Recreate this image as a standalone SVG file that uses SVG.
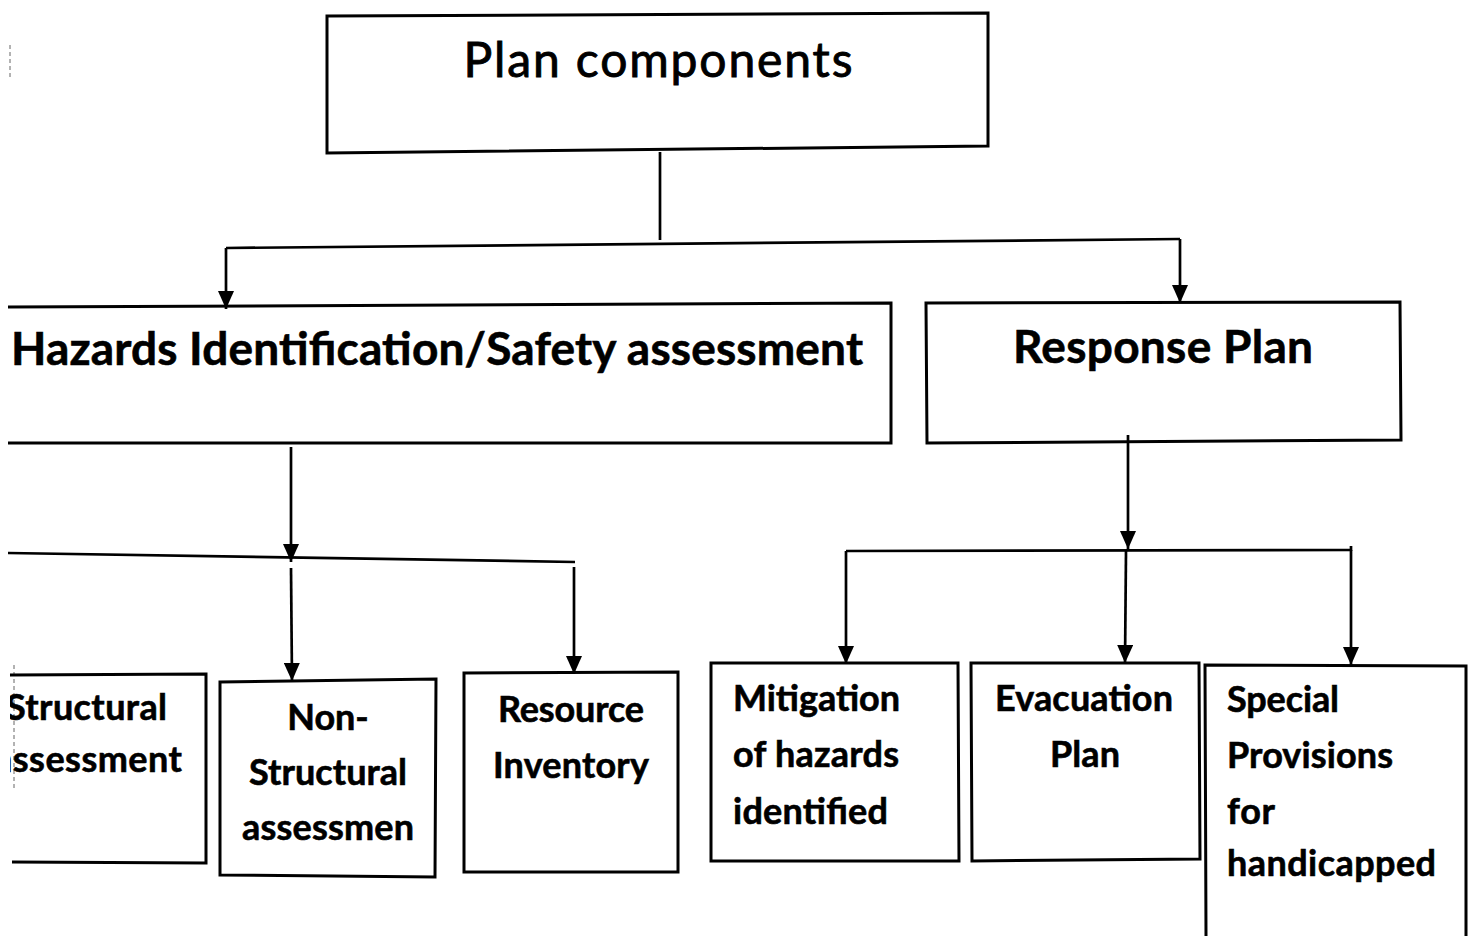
<svg xmlns="http://www.w3.org/2000/svg" width="1470" height="936" viewBox="0 0 1470 936">
<style>
.box{fill:none;stroke:#000;stroke-width:3}
.ln{fill:none;stroke:#000;stroke-width:2.7}
.t{font-family:Lato,"Liberation Sans",sans-serif;fill:#000;stroke:#000;stroke-width:0.6}
.b{font-weight:bold;font-size:36px}
.art{fill:none;stroke:#666;stroke-width:1;stroke-dasharray:4 3}
</style>
<defs>
<marker id="ah" markerUnits="userSpaceOnUse" markerWidth="18" markerHeight="16" viewBox="0 -8 18 16" refX="18" refY="0" orient="auto">
<path d="M0,-8 L18,0 L0,8 z" fill="#000"/>
</marker>
<clipPath id="clipL"><rect x="10" y="0" width="1460" height="936"/></clipPath>
</defs>
<rect width="1470" height="936" fill="#fff"/>
<path class="art" d="M10,45 L10,78"/>
<path class="art" d="M14,665 L14,790"/>
<g id="connectors">
<path class="ln" d="M660,152 L660,240"/>
<path class="ln" d="M226,248 L1180,239"/>
<path class="ln" d="M226,248 L226,309" marker-end="url(#ah)"/>
<path class="ln" d="M1180,239 L1180,303" marker-end="url(#ah)"/>
<path class="ln" d="M291,447 L291,562" marker-end="url(#ah)"/>
<path class="ln" d="M8,553 L575,562"/>
<path class="ln" d="M291,568 L292,681" marker-end="url(#ah)"/>
<path class="ln" d="M574,567 L574,674" marker-end="url(#ah)"/>
<path class="ln" d="M1128,435 L1128,549" marker-end="url(#ah)"/>
<path class="ln" d="M846,551 L1351,550 M1351,546 L1351,551"/>
<path class="ln" d="M846,551 L846,664" marker-end="url(#ah)"/>
<path class="ln" d="M1126,551 L1125,663" marker-end="url(#ah)"/>
<path class="ln" d="M1351,550 L1351,665" marker-end="url(#ah)"/>
</g>
<g id="plan">
<path class="box" d="M327,16 L988,13 L988,146 L327,153 Z"/>
<text class="t" x="658" y="77" font-size="48" text-anchor="middle" textLength="389" style="stroke-width:0.9">Plan components</text>
</g>
<g id="hazards">
<path class="box" d="M8,307 L891,303 L891,443 L8,443"/>
<text class="t" x="11" y="365" font-size="46" font-weight="bold" textLength="852">Hazards Identification/Safety assessment</text>
</g>
<g id="response">
<path class="box" d="M926,303 L1400,302 L1401,440 L927,443 Z"/>
<text class="t" x="1163" y="363" font-size="46" font-weight="bold" text-anchor="middle" textLength="300">Response Plan</text>
</g>
<g id="structural">
<path class="box" d="M10,675 L206,674 L206,863 L12,862"/>
<g clip-path="url(#clipL)">
<text class="t b" x="6" y="720" textLength="161">Structural</text>
<text class="t b" x="-6" y="772" textLength="188">assessment</text>
</g>
</g>
<g id="nonstructural">
<path class="box" d="M220,682 L436,679 L435,877 L220,875 Z"/>
<text class="t b" x="328" y="730" text-anchor="middle">Non-</text>
<text class="t b" x="328" y="785" text-anchor="middle" textLength="158">Structural</text>
<text class="t b" x="328" y="840" text-anchor="middle" textLength="172">assessmen</text>
</g>
<g id="resource">
<path class="box" d="M464,673 L678,672 L678,872 L464,872 Z"/>
<text class="t b" x="571" y="722" text-anchor="middle" textLength="146">Resource</text>
<text class="t b" x="571" y="778" text-anchor="middle" textLength="156">Inventory</text>
</g>
<g id="mitigation">
<path class="box" d="M711,663 L958,663 L959,861 L711,861 Z"/>
<text class="t b" x="733" y="711" textLength="167">Mitigation</text>
<text class="t b" x="733" y="767" textLength="166">of hazards</text>
<text class="t b" x="733" y="824" textLength="155">identified</text>
</g>
<g id="evacuation">
<path class="box" d="M971,663 L1199,663 L1200,859 L972,861 Z"/>
<text class="t b" x="1084" y="711" text-anchor="middle" textLength="178">Evacuation</text>
<text class="t b" x="1085" y="767" text-anchor="middle" textLength="70">Plan</text>
</g>
<g id="special">
<path class="box" d="M1206,936 L1205,665 L1466,666 L1466,936"/>
<text class="t b" x="1227" y="712" textLength="112">Special</text>
<text class="t b" x="1227" y="768" textLength="166">Provisions</text>
<text class="t b" x="1227" y="824" textLength="48">for</text>
<text class="t b" x="1227" y="876" textLength="209">handicapped</text>
</g>
</svg>
